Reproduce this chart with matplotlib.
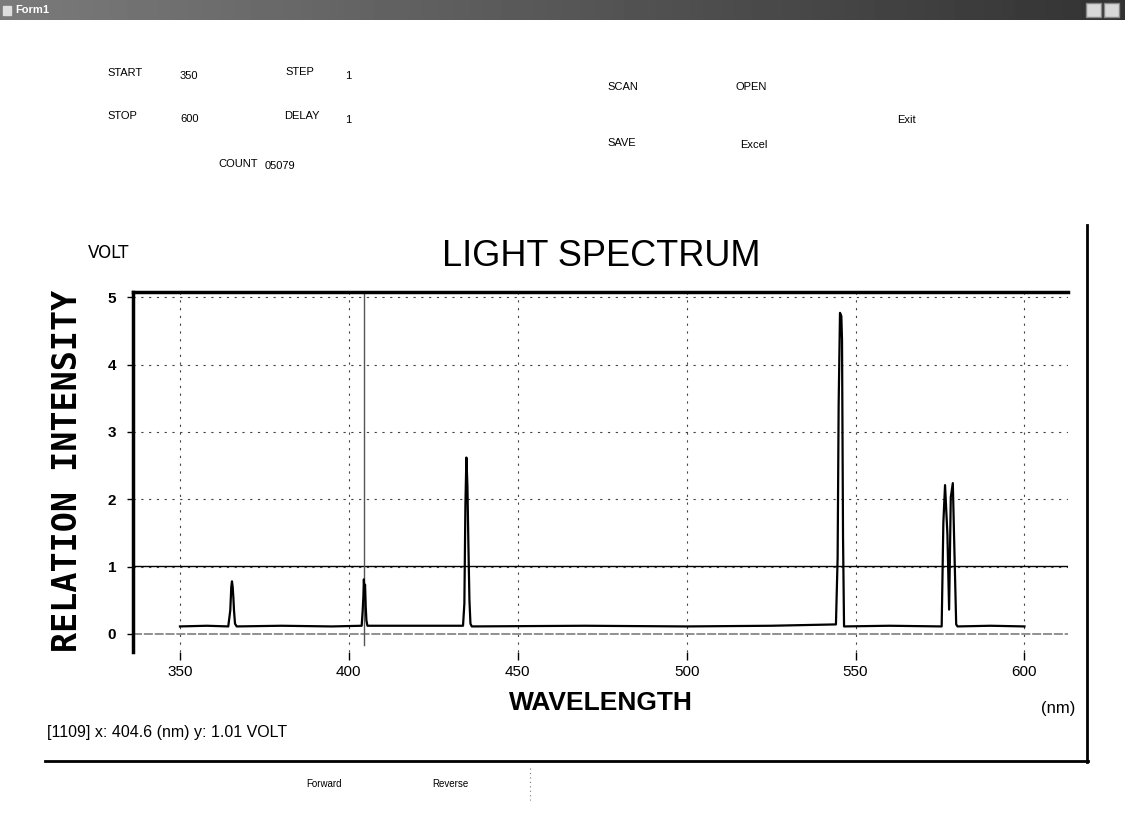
import numpy as np
import matplotlib
matplotlib.use("Agg")
import matplotlib.pyplot as plt
from matplotlib.lines import Line2D
from matplotlib.patches import Rectangle

W, H = 1125, 823

# spectrum (nm, volt)
wavelength = [350.0, 358.0, 364.3, 364.9, 365.2, 365.4, 365.6, 365.8, 366.0, 366.3, 366.8,
              380.0, 395.0,
              403.8, 404.1, 404.3, 404.45, 404.6, 404.8, 405.0, 405.2, 405.5,
              420.0,
              433.8, 434.2, 434.5, 434.8, 435.1, 435.4, 435.7, 436.0, 436.4,
              470.0, 500.0, 525.0,
              544.2, 544.7, 545.0, 545.4, 545.8, 546.0, 546.3, 546.6,
              560.0,
              575.5, 576.0, 576.5, 577.2, 577.7, 578.2, 578.8, 579.2, 579.8, 580.2,
              590.0, 600.0]
intensity = [0.11, 0.12, 0.11, 0.35, 0.70, 0.78, 0.70, 0.55, 0.35, 0.15, 0.11,
             0.12, 0.11,
             0.12, 0.35, 0.55, 0.81, 0.65, 0.73, 0.40, 0.20, 0.12,
             0.12,
             0.12, 0.45, 1.90, 2.62, 2.20, 1.30, 0.50, 0.15, 0.11,
             0.12, 0.11, 0.12,
             0.14, 1.13, 3.40, 4.77, 4.72, 4.37, 1.43, 0.11,
             0.12,
             0.11, 1.65, 2.21, 1.48, 0.36, 2.03, 2.24, 1.39, 0.14, 0.11,
             0.12, 0.11]

x_ticks = [350, 400, 450, 500, 550, 600]
y_ticks = [0, 1, 2, 3, 4, 5]

cursor_index = 1109
cursor_x = 404.6
cursor_y = 1.01

controls = [("START", 107, 73), ("350", 180, 76), ("STEP", 285, 72), ("1", 345, 76),
            ("STOP", 107, 116), ("600", 180, 119), ("DELAY", 284, 116), ("1", 345, 120),
            ("COUNT", 218, 164), ("05079", 265, 166),
            ("SCAN", 607, 87), ("OPEN", 735, 87), ("Exit", 897, 120),
            ("SAVE", 607, 143), ("Excel", 740, 145)]
buttons = [("Forward", 306, 784), ("Reverse", 432, 784)]


def px(x, y):
    return x / W, 1 - y / H


def main():
    fig = plt.figure(figsize=(W / 100, H / 100), dpi=100)
    fig.patch.set_facecolor("white")
    plt.rcParams["font.family"] = ["Liberation Sans", "DejaVu Sans"]

    # window title bar
    bar = fig.add_axes([0, 1 - 20 / H, 1, 20 / H])
    grad = np.linspace(0.48, 0.2, 256).reshape(1, -1)
    bar.imshow(grad, aspect="auto", cmap="gray", vmin=0, vmax=1, extent=[0, W, 0, 20])
    bar.set_xlim(0, W)
    bar.set_ylim(0, 20)
    bar.axis("off")
    bar.add_patch(Rectangle((3, 5), 8, 9, color="#dddddd"))
    bar.text(15, 10, "Form1", color="white", fontsize=8, va="center", fontweight="bold")
    for bx in (1086, 1104):
        bar.add_patch(Rectangle((bx, 3), 15, 14, facecolor="#d8d8d8", edgecolor="#888888"))

    for label, x, y in controls:
        fig.text(*px(x, y), label, fontsize=8, va="center", ha="left")
    for label, x, y in buttons:
        fig.text(*px(x, y), label, fontsize=7, va="center", ha="left")
    fig.add_artist(Line2D([530 / W, 530 / W], [1 - 768 / H, 1 - 800 / H],
                          color="#777777", lw=0.8, linestyle=(0, (1, 3))))

    # plot area
    ax = fig.add_axes([133 / W, 1 - 652 / H, (1068 - 133) / W, (652 - 292) / H])
    ax.set_xlim(336.1, 612.9)
    ax.set_ylim(-0.27, 5.08)

    for xv in x_ticks:
        ax.axvline(xv, color="#444444", lw=0.8, linestyle=(0, (2, 5)), zorder=1)
    for yv in y_ticks[1:]:
        ax.axhline(yv, color="#444444", lw=0.8, linestyle=(0, (2, 5)), zorder=1)
    ax.axhline(0, color="#888888", lw=1.3, linestyle=(0, (5, 1)), zorder=1)

    ax.plot(wavelength, intensity, color="black", lw=1.6, zorder=3)

    ax.axhline(cursor_y, color="black", lw=1.0, zorder=2)
    ax.axvline(cursor_x, ymin=0.02, color="#555555", lw=1.0, zorder=2)

    for side in ("right", "bottom"):
        ax.spines[side].set_visible(False)
    ax.spines["left"].set_linewidth(2.5)
    ax.spines["top"].set_linewidth(2.5)

    ax.set_xticks(x_ticks)
    ax.set_yticks(y_ticks)
    ax.set_xticklabels([str(v) for v in x_ticks], fontsize=11)
    ax.set_yticklabels([str(v) for v in y_ticks], fontsize=11, fontweight="bold")
    ax.tick_params(axis="x", direction="out", length=6, width=1, pad=3)
    ax.tick_params(axis="y", direction="out", length=4, width=1, pad=8)

    # labels around the plot
    fig.text(*px(601, 257), "LIGHT SPECTRUM", fontsize=26, ha="center", va="center")
    fig.text(*px(88, 253), "VOLT", fontsize=12, ha="left", va="center",
             family="DejaVu Sans")
    fig.text(*px(68, 471), "RELATION INTENSITY", fontsize=24, rotation=90,
             ha="center", va="center", family="DejaVu Sans Mono", fontweight="bold")
    fig.text(*px(601, 703), "WAVELENGTH", fontsize=19, fontweight="bold",
             ha="center", va="center")
    fig.text(*px(1058, 708), "(nm)", fontsize=12, ha="center", va="center")
    fig.text(*px(47, 733), "[%d] x: %.1f (nm) y: %.2f VOLT" % (cursor_index, cursor_x, cursor_y),
             fontsize=11.5, ha="left", va="center")

    # panel border
    fig.add_artist(Line2D([1087 / W, 1087 / W], [1 - 225 / H, 1 - 762 / H], color="black", lw=2))
    fig.add_artist(Line2D([45 / W, 1088 / W], [1 - 761 / H, 1 - 761 / H], color="black", lw=2))

    fig.savefig("out.png", dpi=100)


if __name__ == "__main__":
    main()
